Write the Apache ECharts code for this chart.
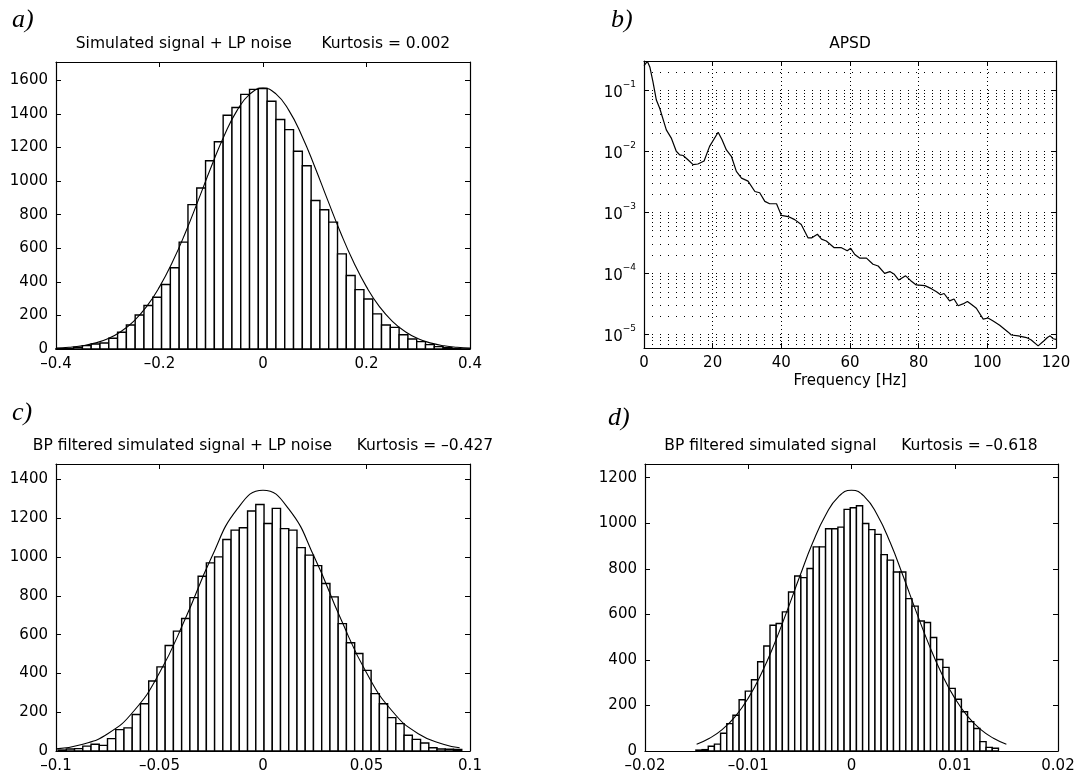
<!DOCTYPE html>
<html>
<head>
<meta charset="utf-8">
<title>Histogramme und APSD</title>
<script src="https://cdn.jsdelivr.net/npm/echarts@6.0.0/dist/echarts.min.js"></script>
<style>
  html, body { margin: 0; padding: 0; background: #fff; }
  #chart { width: 1086px; height: 778px; }
</style>
</head>
<body>
<div id="chart"></div>
<script>
// a) simulated signal + LP noise
var aBinStart = -0.4, aBinWidth = 0.017;
var aCounts = [2, 3, 10, 20, 30, 36, 64, 100, 143, 203, 259, 308, 384, 484, 637, 860, 959, 1122, 1235, 1393, 1439, 1517, 1547, 1552,
               1476, 1367, 1307, 1178, 1092, 885, 830, 756, 567, 438, 354, 298, 209, 143, 129, 85, 60, 44, 26, 14, 8, 3, 1];
var aFitX = [-0.4, -0.375, -0.35, -0.325, -0.3, -0.275, -0.25, -0.225, -0.2, -0.175, -0.15, -0.125, -0.1, -0.075, -0.05, -0.025, 0,
             0.025, 0.05, 0.075, 0.1, 0.125, 0.15, 0.175, 0.2, 0.225, 0.25, 0.275, 0.3, 0.325, 0.35, 0.375, 0.4];
var aFitY = [5, 10, 19, 35, 61, 103, 165, 252, 370, 518, 693, 887, 1086, 1271, 1422, 1520, 1555,
             1520, 1422, 1271, 1086, 887, 693, 518, 370, 252, 165, 103, 61, 35, 19, 10, 5];

// b) APSD
var apsdFreq = [0, 1.0, 1.7, 2.6, 3.6, 4.6, 6.5, 8.0, 9.4, 10.4, 11.4, 12.8, 14.3, 15.7, 17.5, 19.1, 21.6, 22.7, 24.0, 25.5,
                26.9, 28.4, 30.3, 32.3, 33.7, 35.2, 36.6, 38.6, 40.0, 42.0, 43.9, 45.8, 47.8, 48.8, 50.5, 51.7, 53.1, 55.4, 57.5, 59.2,
                60.2, 61.4, 62.8, 64.8, 66.7, 68.2, 70.1, 71.6, 72.8, 74.2, 76.2, 77.7, 79.3, 81.8, 83.7, 85.2, 86.4, 87.4, 89.0, 90.3,
                91.5, 92.9, 94.2, 95.4, 96.8, 98.8, 100.2, 101.7, 103.6, 106.0, 107.0, 109.0, 111.4, 112.8, 114.8, 115.2, 116.5, 117.5, 118.3, 119.2,
                120];
var apsdVal = [0.251, 0.295, 0.240, 0.138, 0.0687, 0.0501, 0.0224, 0.0162, 0.0100, 0.0087,
               0.0085, 0.00724, 0.00603, 0.00617, 0.00692, 0.0120, 0.0204, 0.0155, 0.0105, 0.00813,
               0.00468, 0.00363, 0.00324, 0.00219, 0.00209, 0.00151, 0.00138, 0.00138, 0.000891, 0.000851,
               0.000759, 0.000631, 0.000380, 0.000380, 0.000437, 0.000363, 0.000339, 0.000263, 0.000263, 0.000234,
               0.000257, 0.000204, 0.000178, 0.000178, 0.000141, 0.000132, 0.000100, 0.000107, 0.0000977, 0.0000776,
               0.0000912, 0.0000759, 0.0000646, 0.0000631, 0.0000562, 0.0000501, 0.0000447, 0.0000468, 0.0000355, 0.0000380,
               0.0000295, 0.0000316, 0.0000347, 0.0000309, 0.0000269, 0.0000178, 0.0000186, 0.0000166, 0.0000141, 0.0000110,
               0.0000098, 0.0000095, 0.0000089, 0.0000081, 0.0000065, 0.0000062, 0.0000079, 0.0000089, 0.0000095, 0.0000085,
               0.0000083];

// c) BP filtered simulated signal + LP noise
var cBinStart = -0.099, cBinWidth = 0.00398;
var cCounts = [5, 10, 12, 25, 35, 29, 64, 110, 119, 188, 244, 361, 434, 544, 618, 683, 791, 901, 970, 1001, 1091, 1139, 1151, 1238,
               1271, 1173, 1251, 1147, 1139, 1049, 1010, 956, 864, 795, 657, 558, 503, 416, 296, 244, 172, 141, 81, 60, 41, 17, 10, 9, 8];
var cFitX = [-0.1, -0.0875, -0.075, -0.0625, -0.05, -0.0375, -0.025, -0.0125, 0, 0.0125, 0.025, 0.0375, 0.05, 0.0625, 0.075, 0.0875, 0.095];
var cFitY = [11, 34, 89, 205, 403, 683, 995, 1247, 1345, 1247, 995, 683, 403, 205, 89, 34, 17];

// d) BP filtered simulated signal
var dBinStart = -0.01507, dBinWidth = 0.000598;
var dCounts = [4, 6, 21, 30, 78, 120, 157, 225, 263, 313, 392, 461, 552, 560, 611, 698, 768, 761, 801, 896, 896, 976, 976, 983, 1061,
               1068, 1077, 999, 972, 951, 862, 838, 786, 786, 669, 636, 571, 564, 498, 402, 367, 275, 227, 172, 129, 99, 41, 16, 12];
var dFitX = [-0.015, -0.01375, -0.0125, -0.01125, -0.01, -0.00875, -0.0075, -0.00625, -0.005, -0.00375, -0.0025, -0.00125, 0,
             0.00125, 0.0025, 0.00375, 0.005, 0.00625, 0.0075, 0.00875, 0.01, 0.01125, 0.0125, 0.01375, 0.015];
var dFitY = [30, 56, 95, 152, 232, 338, 467, 614, 768, 915, 1036, 1117, 1145,
             1117, 1036, 915, 768, 614, 467, 338, 232, 152, 95, 56, 30];

var FONT = 'DejaVu Sans';

function minus(v) {
    if (Math.abs(v) < 1e-12) return '0';
    return (v < 0 ? '\u2013' : '') + String(+Math.abs(v).toFixed(6));
}

function histData(start, width, counts) {
    return counts.map(function (c, i) {
        return [start + i * width, start + (i + 1) * width, c];
    });
}

function pairs(xs, ys) {
    return xs.map(function (x, i) { return [x, ys[i]]; });
}

// white bar with a dark outline, like matlab's hist()
function renderBar(params, api) {
    var p0 = api.coord([api.value(0), api.value(2)]);
    var p1 = api.coord([api.value(1), 0]);
    return {
        type: 'rect',
        shape: { x: p0[0], y: p0[1], width: p1[0] - p0[0], height: p1[1] - p0[1] },
        style: { fill: '#fff', stroke: '#000', lineWidth: 1.4 }
    };
}

var line = { show: true, onZero: false, lineStyle: { color: '#000', width: 1.2 } };
var tick = { show: true, inside: true, length: 5, lineStyle: { color: '#000', width: 1 } };

function xAxes(g, min, max, step, grid) {
    return [{
        type: 'value', gridIndex: g, position: 'bottom', min: min, max: max, interval: step,
        axisLine: line, axisTick: tick,
        axisLabel: { margin: 8, color: '#000', fontFamily: FONT, fontSize: 15, formatter: minus },
        splitLine: grid ? { show: true, lineStyle: { color: '#000', width: 1, type: [1, 3] } } : { show: false }
    }, {
        type: 'value', gridIndex: g, position: 'top', min: min, max: max, interval: step,
        axisLine: line, axisTick: tick, axisLabel: { show: false }, splitLine: { show: false }
    }];
}

function yAxes(g, max, step) {
    return [{
        type: 'value', gridIndex: g, position: 'left', min: 0, max: max, interval: step,
        axisLine: line, axisTick: tick,
        axisLabel: {
            margin: 8, color: '#000', fontFamily: FONT, fontSize: 15,
            formatter: function (v) { return Math.abs(v / step - Math.round(v / step)) < 1e-6 ? String(Math.round(v)) : ''; }
        },
        splitLine: { show: false }
    }, {
        type: 'value', gridIndex: g, position: 'right', min: 0, max: max, interval: step,
        axisLine: line, axisTick: tick, axisLabel: { show: false }, splitLine: { show: false }
    }];
}

var logMin = 6e-6, logMax = 0.3;
function logLabel(v) {
    var k = Math.log(v) / Math.LN10;
    if (Math.abs(k - Math.round(k)) > 1e-6) return '';
    return '{b|10}{s|\u2212' + (-Math.round(k)) + '}';
}
var logY = [{
    type: 'log', logBase: 10, gridIndex: 1, position: 'left', min: logMin, max: logMax,
    axisLine: line, axisTick: tick,
    axisLabel: {
        margin: 8, color: '#000', formatter: logLabel,
        rich: {
            b: { fontFamily: FONT, fontSize: 15, color: '#000', verticalAlign: 'bottom', lineHeight: 20 },
            s: { fontFamily: FONT, fontSize: 9, color: '#000', verticalAlign: 'top', lineHeight: 20 }
        }
    },
    splitLine: { show: false }
}, {
    type: 'log', logBase: 10, gridIndex: 1, position: 'right', min: logMin, max: logMax,
    axisLine: line, axisTick: tick, axisLabel: { show: false }, splitLine: { show: false }
}];

// dotted horizontal grid at every decade and every 2..9 step inside it
var logGrid = [];
for (var k = -6; k <= -1; k++) {
    for (var m = 1; m <= 9; m++) {
        var v = m * Math.pow(10, k);
        if (v > logMin * 1.01 && v < logMax * 0.99) logGrid.push({ yAxis: v });
    }
}

var grids = [
    { left: 56, top: 62, width: 414, height: 287 },
    { left: 644, top: 61, width: 412, height: 287 },
    { left: 56, top: 464, width: 414, height: 287 },
    { left: 645, top: 464, width: 413, height: 287 }
];

var fitStyle = { color: '#000', width: 1.1 };

function txt(x, y, s, font, align) {
    return {
        type: 'text', x: x, y: y, silent: true,
        style: { text: s, font: font, fill: '#000', align: align || 'center', verticalAlign: 'middle' }
    };
}
var titleFont = '15.5px "DejaVu Sans"';
var tagFont = 'italic 26px "Liberation Serif"';

var option = {
    backgroundColor: '#fff',
    animation: false,
    grid: grids,
    xAxis: [].concat(xAxes(0, -0.4, 0.4, 0.2), xAxes(1, 0, 120, 20, true), xAxes(2, -0.1, 0.1, 0.05), xAxes(3, -0.02, 0.02, 0.01)),
    yAxis: [].concat(yAxes(0, 1710, 200), logY, yAxes(2, 1480, 200), yAxes(3, 1260, 200)),
    graphic: [
        txt(12, 20, 'a)', tagFont, 'left'),
        txt(611, 20, 'b)', tagFont, 'left'),
        txt(12, 413, 'c)', tagFont, 'left'),
        txt(608, 418, 'd)', tagFont, 'left'),
        txt(263, 44, 'Simulated signal + LP noise      Kurtosis = 0.002', titleFont),
        txt(850, 44, 'APSD', titleFont),
        txt(263, 446, 'BP filtered simulated signal + LP noise     Kurtosis = \u20130.427', titleFont),
        txt(851, 446, 'BP filtered simulated signal     Kurtosis = \u20130.618', titleFont),
        txt(850, 381, 'Frequency [Hz]', '15px "DejaVu Sans"')
    ],
    series: [
        { type: 'custom', xAxisIndex: 0, yAxisIndex: 0, renderItem: renderBar, encode: { x: [0, 1], y: 2 }, data: histData(aBinStart, aBinWidth, aCounts) },
        { type: 'line', xAxisIndex: 0, yAxisIndex: 0, data: pairs(aFitX, aFitY), smooth: true, showSymbol: false, lineStyle: fitStyle, z: 3 },
        {
            type: 'line', xAxisIndex: 2, yAxisIndex: 2, data: pairs(apsdFreq, apsdVal), showSymbol: false,
            lineStyle: { color: '#000', width: 1.2 }, z: 3,
            markLine: {
                silent: true, symbol: ['none', 'none'], label: { show: false }, precision: 12,
                lineStyle: { color: '#000', width: 1, type: [1, 7] },
                data: logGrid
            }
        },
        { type: 'custom', xAxisIndex: 4, yAxisIndex: 4, renderItem: renderBar, encode: { x: [0, 1], y: 2 }, data: histData(cBinStart, cBinWidth, cCounts) },
        { type: 'line', xAxisIndex: 4, yAxisIndex: 4, data: pairs(cFitX, cFitY), smooth: true, showSymbol: false, lineStyle: fitStyle, z: 3 },
        { type: 'custom', xAxisIndex: 6, yAxisIndex: 6, renderItem: renderBar, encode: { x: [0, 1], y: 2 }, data: histData(dBinStart, dBinWidth, dCounts) },
        { type: 'line', xAxisIndex: 6, yAxisIndex: 6, data: pairs(dFitX, dFitY), smooth: true, showSymbol: false, lineStyle: fitStyle, z: 3 }
    ]
};

var myChart = echarts.init(document.getElementById('chart'));
myChart.setOption(option);
</script>
</body>
</html>
